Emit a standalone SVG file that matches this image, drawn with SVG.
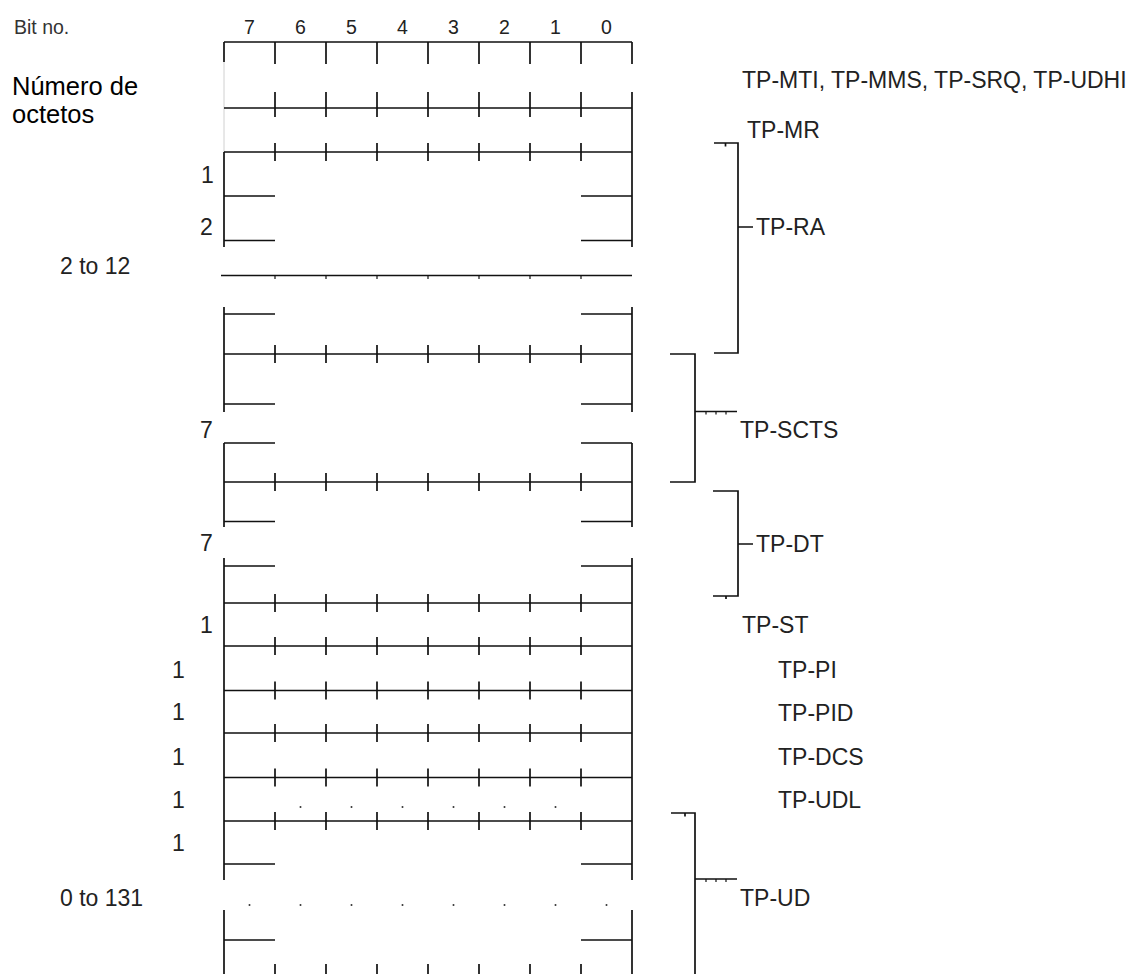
<svg xmlns="http://www.w3.org/2000/svg" width="1139" height="974" viewBox="0 0 1139 974">
<style>
  .ln{stroke:#111;stroke-width:1.7;fill:none}
  .faint{stroke:#d0d0d0;stroke-width:1;fill:none}
  .thin{stroke:#111;stroke-width:1.2;fill:none}
  .dot{fill:#333}
  text{font-family:"Liberation Sans",Arial,sans-serif;fill:#222}
  .lab{font-size:23px}
  .num{font-size:23px}
  .bits{font-size:19.5px;fill:#222}
  .big{font-size:25.5px;fill:#000}
  .hdr{font-size:19.5px;fill:#333}
</style>
<rect width="1139" height="974" fill="#fff"/>
<g id="header">
  <text class="hdr" x="14" y="34">Bit no.</text>
  <g class="bits" text-anchor="middle">
    <text x="249.5" y="34">7</text><text x="300.5" y="34">6</text><text x="351.5" y="34">5</text><text x="402.5" y="34">4</text>
    <text x="453.5" y="34">3</text><text x="504.5" y="34">2</text><text x="555.5" y="34">1</text><text x="606.5" y="34">0</text>
  </g>
  <text class="big" x="12" y="95">Número de</text>
  <text class="big" x="12" y="123">octetos</text>
</g>
<g id="octet-table">
  <path class="ln" d="M224,42H632M224,42V62M275,42V64M326,42V64M377,42V64M428,42V64M479,42V64M530,42V64M581,42V64M632,42V64"/>
  <path class="faint" d="M224,62V152"/>
  <path class="ln" d="M224,108H632M275,92V117M326,92V117M377,92V117M428,92V117M479,92V117M530,92V117M581,92V117M632,92V247"/>
  <path class="ln" d="M224,152H632M275,143V161M326,143V161M377,143V161M428,143V161M479,143V161M530,143V161M581,143V161M224,152V247"/>
  <path class="ln" d="M224,196H275M581,196H632M224,240.5H275M581,240.5H632"/>
  <path class="ln" d="M221,275.5H632"/>
  <path class="thin" d="M275,275.5V279M326,275.5V279M377,275.5V279M428,275.5V279M479,275.5V279M530,275.5V279M581,275.5V279"/>
  <path class="ln" d="M224,307V412M632,307V412M224,314H275M581,314H632"/>
  <path class="ln" d="M224,354H632M275,345V363M326,345V363M377,345V363M428,345V363M479,345V363M530,345V363M581,345V363"/>
  <path class="ln" d="M224,404H275M581,404H632"/>
  <path class="ln" d="M224,443V527M632,443V527M224,443H275M581,443H632M224,521.5H275M581,521.5H632"/>
  <path class="ln" d="M224,482H632M275,473V491M326,473V491M377,473V491M428,473V491M479,473V491M530,473V491M581,473V491"/>
  <path class="ln" d="M224,558V880M632,558V880M224,566H275M581,566H632M224,864H275M581,864H632"/>
  <path class="ln" d="M224,603H632M275,594V612M326,594V612M377,594V612M428,594V612M479,594V612M530,594V612M581,594V612"/>
  <path class="ln" d="M224,646H632M275,637V655M326,637V655M377,637V655M428,637V655M479,637V655M530,637V655M581,637V655"/>
  <path class="ln" d="M224,690.5H632M275,681.5V699.5M326,681.5V699.5M377,681.5V699.5M428,681.5V699.5M479,681.5V699.5M530,681.5V699.5M581,681.5V699.5"/>
  <path class="ln" d="M224,733H632M275,724V742M326,724V742M377,724V742M428,724V742M479,724V742M530,724V742M581,724V742"/>
  <path class="ln" d="M224,777.5H632M275,768.5V786.5M326,768.5V786.5M377,768.5V786.5M428,768.5V786.5M479,768.5V786.5M530,768.5V786.5M581,768.5V786.5"/>
  <path class="ln" d="M224,821H632M275,812V830M326,812V830M377,812V830M428,812V830M479,812V830M530,812V830M581,812V830"/>
  <g class="dot">
    <circle cx="300.5" cy="807" r="1"/><circle cx="351.5" cy="807" r="1"/><circle cx="402.5" cy="807" r="1"/>
    <circle cx="453.5" cy="807" r="1"/><circle cx="504.5" cy="807" r="1"/><circle cx="555.5" cy="807" r="1"/>
    <circle cx="249.5" cy="905" r="1"/><circle cx="300.5" cy="905" r="1"/><circle cx="351.5" cy="905" r="1"/><circle cx="402.5" cy="905" r="1"/>
    <circle cx="453.5" cy="905" r="1"/><circle cx="504.5" cy="905" r="1"/><circle cx="555.5" cy="905" r="1"/><circle cx="606.5" cy="905" r="1"/>
  </g>
  <path class="ln" d="M224,910V974M632,910V974M224,940H275M581,940H632M275,964V974M326,964V974M377,964V974M428,964V974M479,964V974M530,964V974M581,964V974"/>
</g>
<g id="octet-counts" class="num">
  <text x="201" y="183">1</text>
  <text x="200" y="235">2</text>
  <text x="60" y="274">2 to 12</text>
  <text x="200" y="438">7</text>
  <text x="200" y="551">7</text>
  <text x="200" y="633">1</text>
  <text x="172" y="678">1</text>
  <text x="172" y="720">1</text>
  <text x="172" y="765">1</text>
  <text x="172" y="808">1</text>
  <text x="172" y="851">1</text>
  <text x="60" y="906">0 to 131</text>
</g>
<g id="connectors">
  <path class="ln" d="M714,143H738V353H714M725.5,143V146.5M738,227H753"/>
  <path class="ln" d="M670,354H695V482H670M695,411.5H737"/>
  <path class="thin" d="M706,411.5V414.5M716,411.5V414.5M726,411.5V414.5"/>
  <path class="ln" d="M713,491H738V596H713M726,596V599M738,544H753"/>
  <path class="ln" d="M671,813H695V974M685,813V816.5M695,879H737"/>
  <path class="thin" d="M706,879V882M716,879V882M726,879V882"/>
</g>
<g id="field-labels" class="lab">
  <text x="742" y="88">TP-MTI, TP-MMS, TP-SRQ, TP-UDHI</text>
  <text x="747" y="138">TP-MR</text>
  <text x="756" y="235">TP-RA</text>
  <text x="740" y="438">TP-SCTS</text>
  <text x="756" y="552">TP-DT</text>
  <text x="742" y="633">TP-ST</text>
  <text x="778" y="678">TP-PI</text>
  <text x="778" y="721">TP-PID</text>
  <text x="778" y="765">TP-DCS</text>
  <text x="778" y="808">TP-UDL</text>
  <text x="740" y="906">TP-UD</text>
</g>
</svg>
